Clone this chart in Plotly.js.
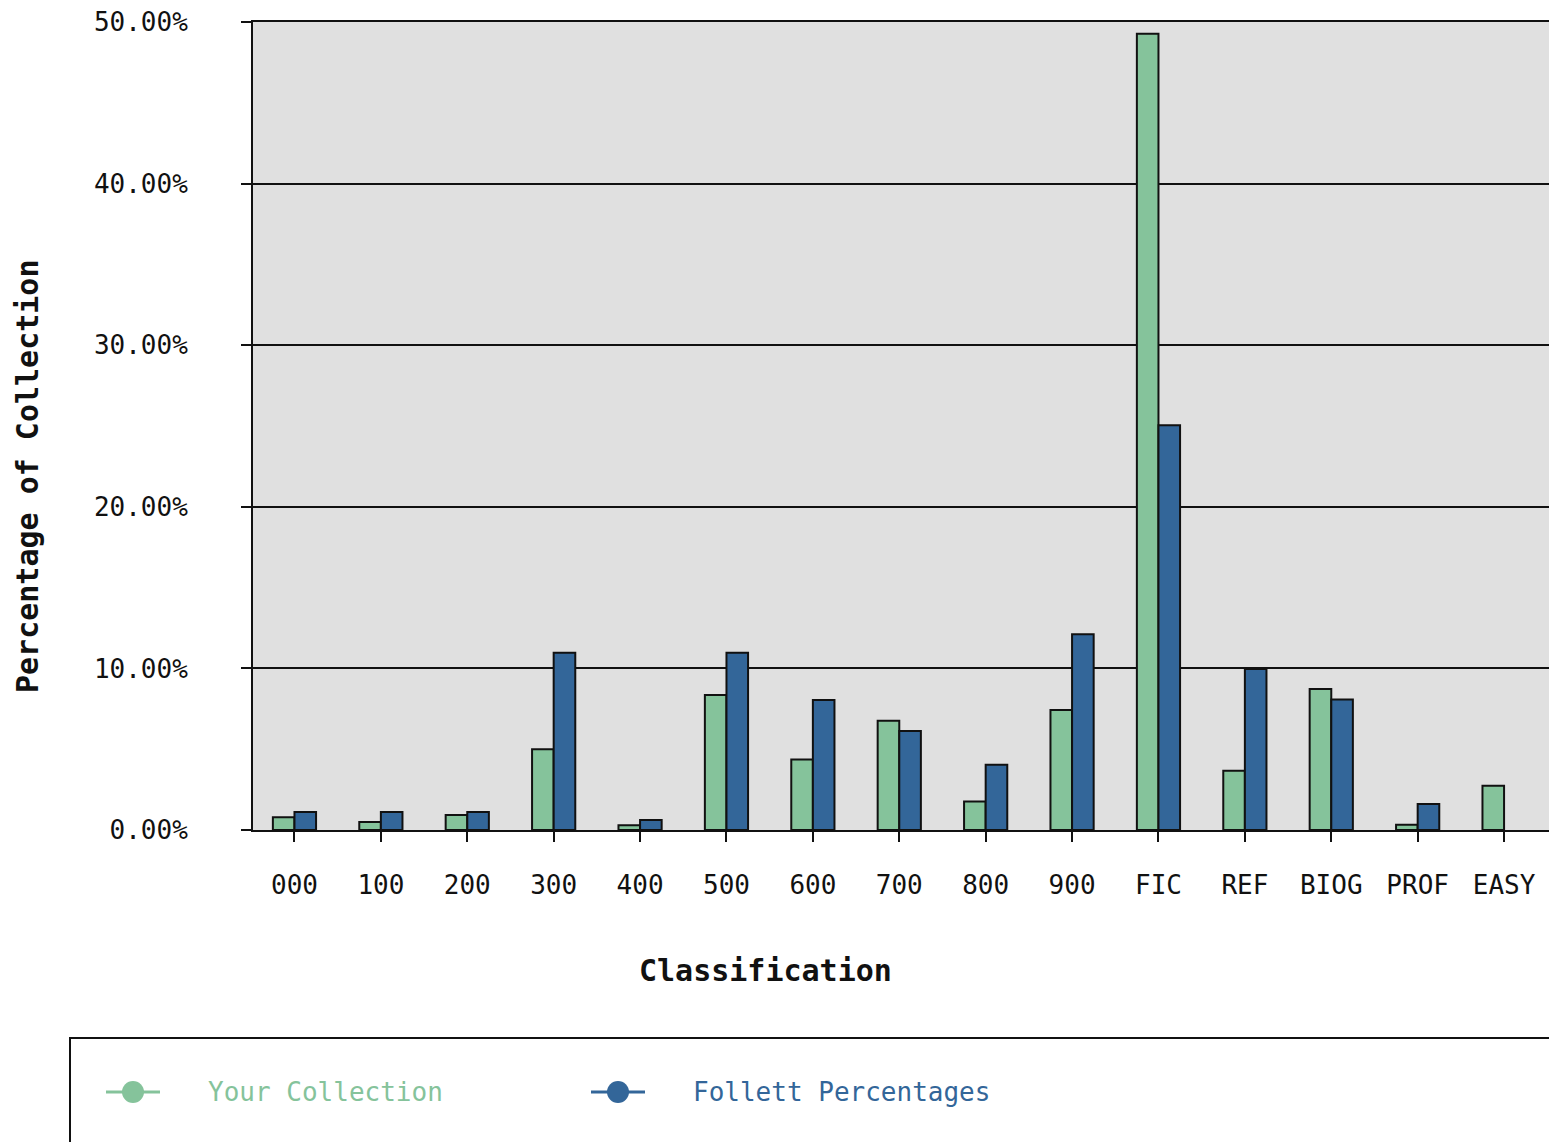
<!DOCTYPE html>
<html>
<head>
<meta charset="utf-8">
<script src="https://cdn.plot.ly/plotly-3.0.1.min.js"></script>
<style>html,body{margin:0;padding:0;background:#fff;}#chart{width:1549px;height:1142px;}</style>
</head>
<body>
<div id="chart"></div>
<script>
// Data
var categories = ['000','100','200','300','400','500','600','700','800','900','FIC','REF','BIOG','PROF','EASY'];
var yourCollection = [0.79, 0.49, 0.93, 4.99, 0.29, 8.35, 4.37, 6.76, 1.77, 7.42, 49.27, 3.67, 8.72, 0.33, 2.74];
var follettPercentages = [1.11, 1.11, 1.11, 10.97, 0.62, 10.97, 8.04, 6.12, 4.04, 12.12, 25.05, 9.96, 8.08, 1.61, null];
var seriesNames = ['Your Collection', 'Follett Percentages'];
var yTickValues = [0, 10, 20, 30, 40, 50];
var yTickText = ['0.00%', '10.00%', '20.00%', '30.00%', '40.00%', '50.00%'];

var GREEN = '#85c39b';
var BLUE = '#336699';
var INK = '#111111';
var MONO = '"DejaVu Sans Mono", "Liberation Mono", monospace';

var traces = [
  {type: 'bar', x: categories, y: yourCollection, name: seriesNames[0], showlegend: false,
   marker: {color: GREEN, line: {color: INK, width: 2}}},
  {type: 'bar', x: categories, y: follettPercentages, name: seriesNames[1], showlegend: false,
   marker: {color: BLUE, line: {color: INK, width: 2}}}
];

var plotW = 1549 - 253, plotH = 830 - 22;
function px(x) { return (x - 253) / plotW; }
function py(y) { return (830 - y) / plotH; }

// legend drawn as shapes + text (line-with-marker key, coloured labels)
var legendKeys = [
  {cx: 133, textX: 206, color: GREEN, name: seriesNames[0]},
  {cx: 618, textX: 691, color: BLUE, name: seriesNames[1]}
];
var legendY = 1092;

var shapes = [
  {type: 'rect', xref: 'paper', yref: 'paper', x0: px(70), x1: px(1700), y0: py(1038), y1: py(1300),
   line: {color: INK, width: 2}, fillcolor: 'rgba(0,0,0,0)', layer: 'below'}
];
var annotations = [
  {text: '<b>Classification</b>', xref: 'paper', yref: 'paper', x: px(765), y: py(970),
   xanchor: 'center', yanchor: 'middle', showarrow: false,
   font: {family: MONO, size: 30, color: INK}},
  {text: '<b>Percentage of Collection</b>', xref: 'paper', yref: 'paper', x: px(28), y: py(477),
   xanchor: 'center', yanchor: 'middle', textangle: -90, showarrow: false,
   font: {family: MONO, size: 30, color: INK}}
];
legendKeys.forEach(function (k) {
  shapes.push({type: 'line', xref: 'paper', yref: 'paper',
    x0: px(k.cx - 27), x1: px(k.cx + 27), y0: py(legendY), y1: py(legendY),
    line: {color: k.color, width: 3}});
  shapes.push({type: 'circle', xref: 'paper', yref: 'paper',
    x0: px(k.cx - 11), x1: px(k.cx + 11), y0: py(legendY - 11), y1: py(legendY + 11),
    line: {color: k.color, width: 0}, fillcolor: k.color});
  annotations.push({text: k.name, xref: 'paper', yref: 'paper', x: px(k.textX), y: py(legendY),
    xanchor: 'left', yanchor: 'middle', showarrow: false,
    font: {family: MONO, size: 26, color: k.color}});
});

var layout = {
  width: 1549, height: 1142,
  margin: {l: 253, r: 0, t: 22, b: 312, pad: 0},
  paper_bgcolor: '#ffffff',
  plot_bgcolor: '#e0e0e0',
  font: {family: MONO, size: 26, color: INK},
  barmode: 'group',
  bargap: 0.5,
  bargroupgap: 0,
  showlegend: false,
  xaxis: {
    type: 'category',
    range: [-0.48, 14.52],
    showline: true, linecolor: INK, linewidth: 2, mirror: true,
    ticks: 'outside', ticklen: 10, tickwidth: 2, tickcolor: INK,
    ticklabelstandoff: 21,
    tickfont: {family: MONO, size: 26, color: INK},
    showgrid: false, zeroline: false, fixedrange: true
  },
  yaxis: {
    range: [0, 50],
    tickmode: 'array',
    tickvals: yTickValues,
    ticktext: yTickText,
    showline: true, linecolor: INK, linewidth: 2,
    ticks: 'outside', ticklen: 10, tickwidth: 2, tickcolor: INK,
    ticklabelstandoff: 48,
    tickfont: {family: MONO, size: 26, color: INK},
    showgrid: true, gridcolor: INK, gridwidth: 2,
    zeroline: false, fixedrange: true
  },
  shapes: shapes,
  annotations: annotations
};

Plotly.newPlot('chart', traces, layout, {displayModeBar: false, staticPlot: true});
</script>
</body>
</html>
